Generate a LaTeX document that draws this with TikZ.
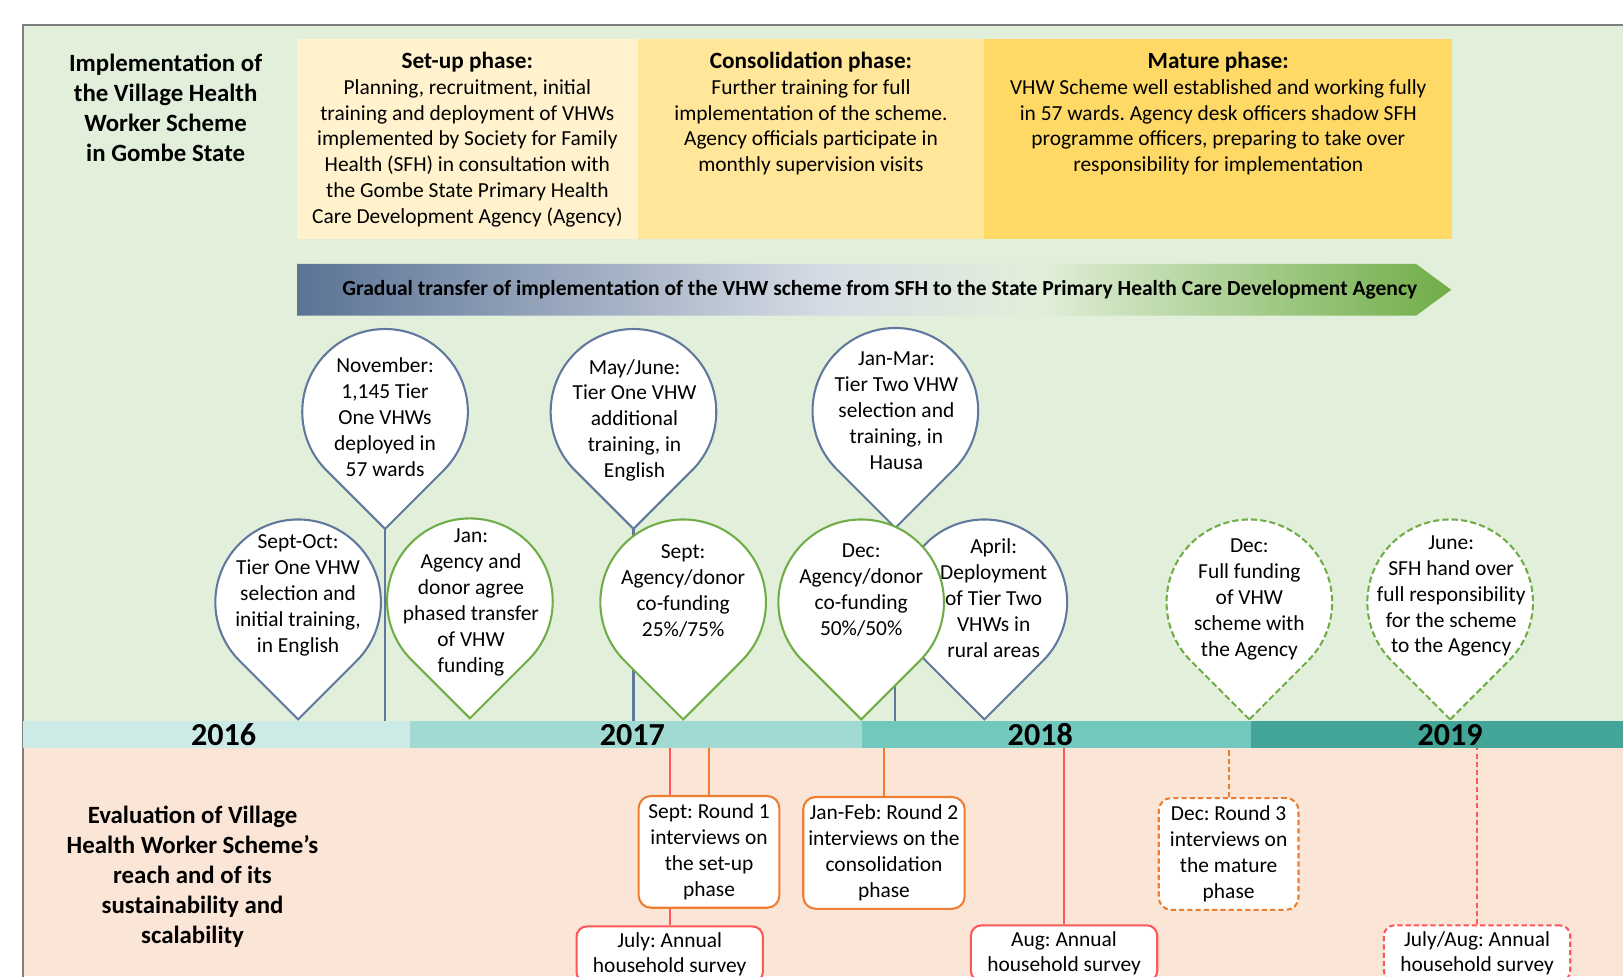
\documentclass[tikz,border=0pt]{standalone}
\usepackage{fontspec}
\setmainfont{Carlito}
\usetikzlibrary{positioning, calc}
\frenchspacing

\definecolor{frameg}{HTML}{7F7F7F}
\definecolor{greenbg}{HTML}{E2EFDA}
\definecolor{peachbg}{HTML}{FBE5D6}
\definecolor{setupc}{HTML}{FFF2CC}
\definecolor{consolc}{HTML}{FFE699}
\definecolor{maturec}{HTML}{FFD966}
\definecolor{yr16}{HTML}{CCEBE6}
\definecolor{yr17}{HTML}{A0DAD2}
\definecolor{yr18}{HTML}{72C8BD}
\definecolor{yr19}{HTML}{42A597}
\definecolor{pinblue}{HTML}{60789E}
\definecolor{pingreen}{HTML}{70AD47}
\definecolor{evalorange}{HTML}{ED7D31}
\definecolor{evalred}{HTML}{FF5757}
\definecolor{arrowslate}{HTML}{5B7395}
\definecolor{arrowmist}{HTML}{D6DCE5}
\definecolor{arrowpale}{HTML}{E2EFDA}

\pgfdeclarehorizontalshading{transfer}{100bp}{color(0bp)=(arrowslate); color(25bp)=(arrowslate); color(48bp)=(arrowmist); color(57bp)=(arrowpale); color(75bp)=(pingreen); color(100bp)=(pingreen)}

\begin{document}
\begin{tikzpicture}[
  x=1pt, y=1pt,
  txt/.style={font=\fontsize{20.7}{25}\selectfont, align=center, inner sep=0pt},
  headtxt/.style={font=\bfseries\fontsize{24}{29}\selectfont, align=center, inner sep=0pt},
  arrowtxt/.style={font=\bfseries\fontsize{20.8}{24}\selectfont, inner sep=0pt},
  yeartxt/.style={font=\bfseries\fontsize{31}{36}\selectfont, inner sep=0pt},
  phasebox/.style={minimum height=193pt, inner sep=0pt, outer sep=0pt},
  yearseg/.style={minimum height=26pt, inner sep=0pt, outer sep=0pt},
  bluepin/.style={draw=pinblue, line width=2pt, fill=white},
  greenpin/.style={draw=pingreen, line width=2pt, fill=white},
  planpin/.style={greenpin, dash pattern=on 6pt off 3pt},
  stem/.style={draw=pinblue, line width=2pt},
  roundbox/.style={txt, draw=evalorange, line width=2pt, fill=white, rounded corners=12pt, minimum height=108pt, anchor=north},
  surveybox/.style={txt, draw=evalred, line width=2pt, fill=white, rounded corners=10pt, minimum width=180pt, minimum height=54pt, anchor=north},
  orangeline/.style={draw=evalorange, line width=2pt},
  redline/.style={draw=evalred, line width=2pt}
]

\path[use as bounding box, clip] (0,0) rectangle (1568,943);
\fill[white] (0,0) rectangle (1568,943);

% ----- Background panels ---------------------------------------------------
\fill[greenbg] (22,246) rectangle (1568,919);
\fill[peachbg] (22,0) rectangle (1568,220);
\draw[frameg, line width=1.5pt] (22,-5) -- (22,919) -- (1580,919);

% ----- Timeline bar --------------------------------------------------------
\node[yearseg, fill=yr16, minimum width=374pt, anchor=south west] (seg16) at (22,220) {};
\node[yearseg, fill=yr17, minimum width=437pt, right=0pt of seg16] (seg17) {};
\node[yearseg, fill=yr18, minimum width=376pt, right=0pt of seg17] (seg18) {};
\node[yearseg, fill=yr19, minimum width=380pt, right=0pt of seg18] (seg19) {};

\node[yeartxt] (lbl16) at (216,233) {2016};
\node[yeartxt] (lbl17) at (611,233) {2017};
\node[yeartxt] (lbl18) at (1005,233) {2018};
\node[yeartxt] (lbl19) at (1401,233) {2019};

% ----- Implementation: titles and phases -----------------------------------
\node[headtxt] (impltitle) at (160,839) {Implementation of\\the Village Health\\Worker Scheme\\in Gombe State};

\node[phasebox, fill=setupc, minimum width=329pt, anchor=south west] (setup) at (287,712) {};
\node[phasebox, fill=consolc, minimum width=335pt, right=0pt of setup] (consol) {};
\node[phasebox, fill=maturec, minimum width=452pt, right=0pt of consol] (mature) {};

\node[txt, anchor=north] (setuptxt) at ([yshift=-12pt]setup.north)
  {{\bfseries\fontsize{22.5}{25}\selectfont Set-up phase:}\\Planning, recruitment, initial\\training and deployment of VHWs\\implemented by Society for Family\\Health (SFH) in consultation with\\the Gombe State Primary Health\\Care Development Agency (Agency)};
\node[txt, anchor=north] (consoltxt) at ([yshift=-12pt]consol.north)
  {{\bfseries\fontsize{22.5}{25}\selectfont Consolidation phase:}\\Further training for full\\implementation of the scheme.\\Agency officials participate in\\monthly supervision visits};
\node[txt, anchor=north] (maturetxt) at ([yshift=-12pt]mature.north)
  {{\bfseries\fontsize{22.5}{25}\selectfont Mature phase:}\\VHW Scheme well established and working fully\\in 57 wards. Agency desk officers shadow SFH\\programme officers, preparing to take over\\responsibility for implementation};

% ----- Transfer arrow ------------------------------------------------------
\shade[shading=transfer] (287,638) -- (1368,638) -- (1402,663) -- (1368,688) -- (287,688) -- cycle;
\node[arrowtxt] (transfer) at (850,663) {Gradual transfer of implementation of the VHW scheme from SFH to the State Primary Health Care Development Agency};

% ----- Stems of the high pins ----------------------------------------------
\coordinate (nov-tip) at (372,432);
\coordinate (mayjun-tip) at (612,432);
\coordinate (janmar-tip) at (865,433);
\draw[stem] (nov-tip) -- (nov-tip |- seg16.north);
\draw[stem] (mayjun-tip) -- (mayjun-tip |- seg17.north);
\draw[stem] (janmar-tip) -- (janmar-tip |- seg18.north);

% ----- Pins ----------------------------------------------------------------
\draw[bluepin] (288,248) -- ++(45:80) arc[start angle=-45, end angle=225, radius=80] -- cycle
  (288,368) node[txt] (septoct) {Sept-Oct:\\Tier One VHW\\selection and\\initial training,\\in English};
\draw[bluepin] (nov-tip) -- ++(45:80) arc[start angle=-45, end angle=225, radius=80] -- cycle
  (372,540) node[txt] (nov) {November:\\1,145 Tier\\One VHWs\\deployed in\\57 wards};
\draw[greenpin] (454,249) -- ++(45:80) arc[start angle=-45, end angle=225, radius=80] -- cycle
  (455,361) node[txt] (jan) {Jan:\\Agency and\\donor agree\\phased transfer\\of VHW\\funding};
\draw[bluepin] (mayjun-tip) -- ++(45:80) arc[start angle=-45, end angle=225, radius=80] -- cycle
  (613,537) node[txt] (mayjun) {May/June:\\Tier One VHW\\additional\\training, in\\English};
\draw[greenpin] (660,248) -- ++(45:80) arc[start angle=-45, end angle=225, radius=80] -- cycle
  (660,372) node[txt] (sept) {Sept:\\Agency/donor\\co-funding\\25\%/75\%};
\draw[bluepin] (janmar-tip) -- ++(45:80) arc[start angle=-45, end angle=225, radius=80] -- cycle
  (866,546) node[txt] (janmar) {Jan-Mar:\\Tier Two VHW\\selection and\\training, in\\Hausa};
\draw[bluepin] (951,248) -- ++(45:80) arc[start angle=-45, end angle=225, radius=80] -- cycle
  (960,365) node[txt] (april) {April:\\Deployment\\of Tier Two\\VHWs in\\rural areas};
\draw[greenpin] (832,248) -- ++(45:80) arc[start angle=-45, end angle=225, radius=80] -- cycle
  (832,373) node[txt] (dec) {Dec:\\Agency/donor\\co-funding\\50\%/50\%};
\draw[planpin] (1207,248) -- ++(45:80) arc[start angle=-45, end angle=225, radius=80] -- cycle
  (1207,364) node[txt] (decfull) {Dec:\\Full funding\\of VHW\\scheme with\\the Agency};
\draw[planpin] (1401,248) -- ++(45:80) arc[start angle=-45, end angle=225, radius=80] -- cycle
  (1402,367) node[txt] (june) {June:\\SFH hand over\\full responsibility\\for the scheme\\to the Agency};

% ----- Evaluation ----------------------------------------------------------
\node[headtxt] (evaltitle) at (186,96) {Evaluation of Village\\Health Worker Scheme’s\\reach and of its\\sustainability and\\scalability};

\node[surveybox] (survey1) at (647,49) {July: Annual\\household survey};
\node[surveybox] (survey2) at (1028,50) {Aug: Annual\\household survey};
\node[surveybox, dash pattern=on 5pt off 3pt] (survey3) at (1427,50) {July/Aug: Annual\\household survey};
\draw[redline] (survey1.north) -- (survey1.north |- seg17.south);
\draw[redline] (survey2.north) -- (survey2.north |- seg18.south);
\draw[redline, dash pattern=on 5pt off 3pt] (survey3.north) -- (survey3.north |- seg19.south);

\node[roundbox, minimum width=136pt] (round1) at (685,175) {Sept: Round 1\\interviews on\\the set-up\\phase};
\node[roundbox, minimum width=156pt] (round2) at (854,174) {Jan-Feb: Round 2\\interviews on the\\consolidation\\phase};
\node[roundbox, minimum width=135pt, dash pattern=on 5pt off 3pt] (round3) at (1187,173) {Dec: Round 3\\interviews on\\the mature\\phase};
\draw[orangeline] (round1.north) -- (round1.north |- seg17.south);
\draw[orangeline] (round2.north) -- (round2.north |- seg18.south);
\draw[orangeline, dash pattern=on 5pt off 3pt] (round3.north) -- (round3.north |- seg18.south);

\end{tikzpicture}
\end{document}
